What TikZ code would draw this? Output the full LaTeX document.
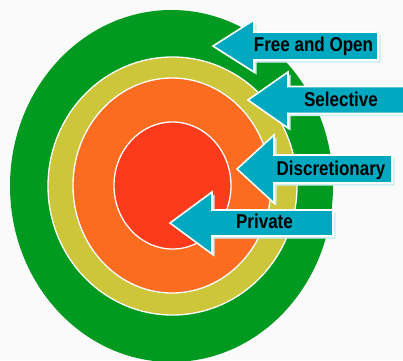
\documentclass[tikz,border=0pt]{standalone}
\usepackage{fontspec}
\newfontfamily\labelfont[FakeStretch=0.85]{Liberation Sans}
\usepackage{tikz}
\definecolor{ringgreen}{HTML}{009A20}
\definecolor{ringyellow}{HTML}{CDC53A}
\definecolor{ringorange}{HTML}{FC6C20}
\definecolor{ringred}{HTML}{FC3A1C}
\definecolor{arrowteal}{HTML}{00A8C0}
\definecolor{arrowshade}{HTML}{CFEEF3}
% tip (x,y), head half height, shaft half height, head length, right end
\def\blockarrow(#1,#2)(#3:#4:#5:#6){
	\fill[arrowshade, shift={(2.5,2.5)}] (#1,#2) -- ({#1+#5},{#2-#3}) -- ({#1+#5},{#2-#4}) -- (#6,{#2-#4}) -- (#6,{#2+#4}) -- ({#1+#5},{#2+#4}) -- ({#1+#5},{#2+#3}) -- cycle;
	\draw[fill=arrowteal, draw=white, line width=1.6] (#1,#2) -- ({#1+#5},{#2-#3}) -- ({#1+#5},{#2-#4}) -- (#6,{#2-#4}) -- (#6,{#2+#4}) -- ({#1+#5},{#2+#4}) -- ({#1+#5},{#2+#3}) -- cycle;}

\begin{document}
\begin{tikzpicture}[x=1pt, y=-1pt,
	ring/.style={draw=white, line width=1.3},
	lbl/.style={anchor=base, inner sep=0pt, font=\labelfont\bfseries\fontsize{20}{24}\selectfont}]
	%%%%% START %%%%%
	
	\useasboundingbox[fill=white!98!black] (0,0) rectangle (403,360);
	
	\fill[ringgreen] (171.5,186) ellipse [x radius=161.5, y radius=176];
	\draw[ring, fill=ringyellow] (172.5,186) ellipse [x radius=124.5, y radius=129];
	\draw[ring, fill=ringorange] (172,185.5) ellipse [x radius=99, y radius=107.5];
	\draw[ring, fill=ringred] (172.5,185.5) ellipse [x radius=58.5, y radius=63.5];
	
	\blockarrow(213,46)(26:14:41:378)
	\node[lbl] (free) at (313.5,51) {Free and Open};
	
	\blockarrow(248,100)(28:13.5:40:412)
	\node[lbl] (selective) at (341,106) {Selective};
	
	\blockarrow(237,169)(34:14:37:392)
	\node[lbl] (discretionary) at (331,175) {Discretionary};
	
	\blockarrow(170,223)(31:13:42:333)
	\node[lbl] (private) at (264.5,228) {Private};
	
	%%%%% END %%%%%
\end{tikzpicture}
\end{document}
